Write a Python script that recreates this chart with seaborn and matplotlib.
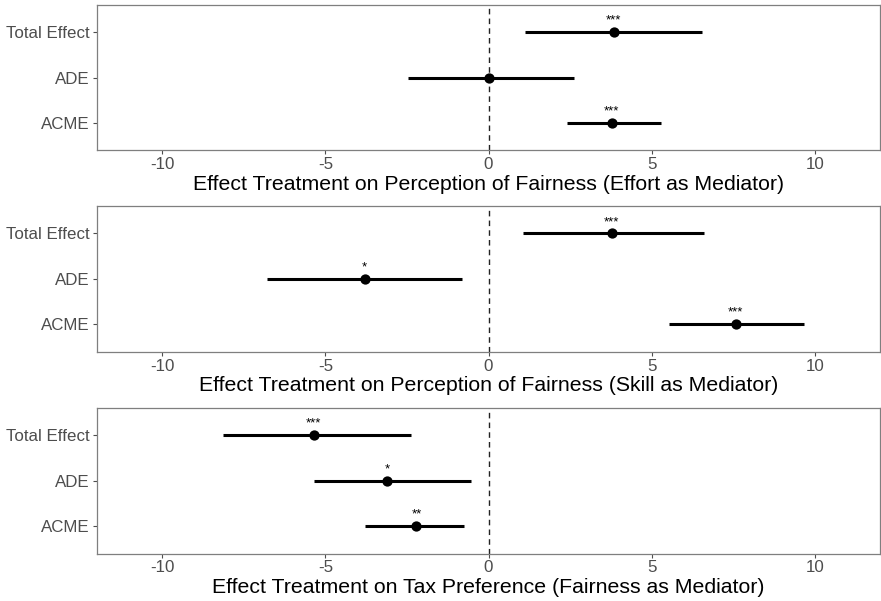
import matplotlib
matplotlib.use("Agg")
import matplotlib.pyplot as plt
import seaborn as sns
import pandas as pd

effects = ["Total Effect", "ADE", "ACME"]

panel_titles = [
    "Effect Treatment on Perception of Fairness (Effort as Mediator)",
    "Effect Treatment on Perception of Fairness (Skill as Mediator)",
    "Effect Treatment on Tax Preference (Fairness as Mediator)",
]

# estimates, lower and upper CI per panel (Total Effect, ADE, ACME)
estimates = [
    [3.83, 0.0, 3.77],
    [3.77, -3.8, 7.57],
    [-5.36, -3.1, -2.21],
]
lower = [
    [1.13, -2.47, 2.39],
    [1.05, -6.78, 5.53],
    [-8.13, -5.36, -3.77],
]
upper = [
    [6.55, 2.61, 5.28],
    [6.6, -0.8, 9.66],
    [-2.39, -0.55, -0.75],
]
stars = [
    ["***", "", "***"],
    ["***", "*", "***"],
    ["***", "*", "**"],
]

sns.set_theme(style="white")
plt.rcParams["font.family"] = ["Liberation Sans", "DejaVu Sans"]

fig = plt.figure(figsize=(8.81, 6.01), dpi=100)
tops = [0.992, 0.657, 0.321]
height = 0.242

for i, title in enumerate(panel_titles):
    ax = fig.add_axes([0.110, tops[i] - height, 0.889, height])
    df = pd.DataFrame({
        "effect": effects,
        "estimate": estimates[i],
        "lower": lower[i],
        "upper": upper[i],
        "stars": stars[i],
    })
    ax.axvline(0, color="#222222", linestyle=(0, (4, 3)), linewidth=1.0, zorder=1)
    ax.hlines(df.index, df["lower"], df["upper"], color="black", linewidth=2.2, zorder=2)
    sns.scatterplot(data=df, x="estimate", y=df.index, color="black", s=55,
                    edgecolor="black", linewidth=0, ax=ax, zorder=3)
    for j, row in df.iterrows():
        if row["stars"]:
            ax.text(row["estimate"], j - 0.12, row["stars"], ha="center", va="bottom",
                    fontsize=9.5, color="black")
    ax.set_xlim(-12, 12)
    ax.set_ylim(2.6, -0.6)
    ax.set_yticks(range(len(effects)))
    ax.set_yticklabels(effects)
    ax.set_xticks([-10, -5, 0, 5, 10])
    ax.set_xticklabels(["-10", "-5", "0", "5", "10"])
    ax.set_xlabel(title, fontsize=15.3, color="black", labelpad=2)
    ax.set_ylabel("")
    ax.tick_params(axis="both", labelsize=12.2, colors="#4d4d4d", length=3,
                   width=0.8, direction="out", left=True, bottom=True, pad=2)
    for s in ax.spines.values():
        s.set_color("#7f7f7f")
        s.set_linewidth(0.9)
    ax.grid(False)

fig.savefig("out.png", dpi=100)
